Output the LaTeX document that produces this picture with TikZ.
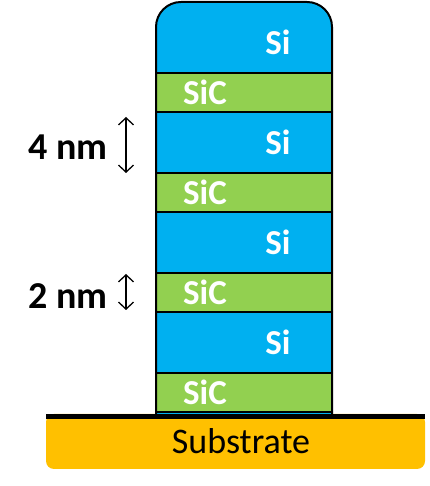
\documentclass[tikz,border=0pt]{standalone}
\usepackage{fontspec}
\setmainfont{Carlito}
\usetikzlibrary{arrows.meta}
\definecolor{si_blue}{RGB}{0,176,240}
\definecolor{sic_green}{RGB}{146,208,80}
\definecolor{sub_orange}{RGB}{255,192,0}
\tikzset{
  layer_label/.style={text=white,font=\bfseries\fontsize{35}{35}\selectfont},
  dim_label/.style={font=\bfseries\fontsize{38}{38}\selectfont},
  dim_arrow/.style={line width=1.3pt,{Straight Barb[length=7pt,width=15pt]}-{Straight Barb[length=7pt,width=15pt]}}
}

\begin{document}
\begin{tikzpicture}[x=1pt,y=1pt,line join=round,line cap=round]
	\useasboundingbox (0,0) rectangle (429,486);

	% substrate
	\fill[sub_orange, rounded corners=8pt] (46,17) rectangle (425,72);
	\node (substrate) at (241,45) {\fontsize{36}{36}\selectfont Substrate};

	% the stack, filled blue first
	\fill[si_blue] (156,72) -- (156,459) arc[start angle=180,end angle=90,radius=25]
	  -- (307,484) arc[start angle=90,end angle=0,radius=25] -- (332,72) -- cycle;
	\foreach \k in {0,1,2,3}{
	  \fill[sic_green] (156,374-100*\k) rectangle (332,413-100*\k);
	  \draw[line width=2pt] (156,413-100*\k) -- (332,413-100*\k);
	  \draw[line width=2pt] (156,374-100*\k) -- (332,374-100*\k);
	  \node[layer_label] (sic\k) at (205,393.5-100*\k) {SiC};
	}
	\node[layer_label] (si0) at (278,444) {Si};
	\foreach \k in {1,2,3}
	  \node[layer_label] (si\k) at (278,443.5-100*\k) {Si};
	\draw[line width=2pt] (156,72) -- (156,459) arc[start angle=180,end angle=90,radius=25]
	  -- (307,484) arc[start angle=90,end angle=0,radius=25] -- (332,72);

	% ground line
	\draw[line width=5pt,line cap=butt] (46,69.5) -- (425,69.5);

	% thickness marks
	\coordinate (fourtop) at (126,369);
	\coordinate (fourbot) at (126,313);
	\coordinate (twotop) at (126,212);
	\coordinate (twobot) at (126,176);
	\draw[dim_arrow] (fourtop) -- (fourbot);
	\draw[dim_arrow] (twotop) -- (twobot);
	\node[dim_label] (four) at (68,339) {4 nm};
	\node[dim_label] (two) at (68,190) {2 nm};
\end{tikzpicture}
\end{document}
